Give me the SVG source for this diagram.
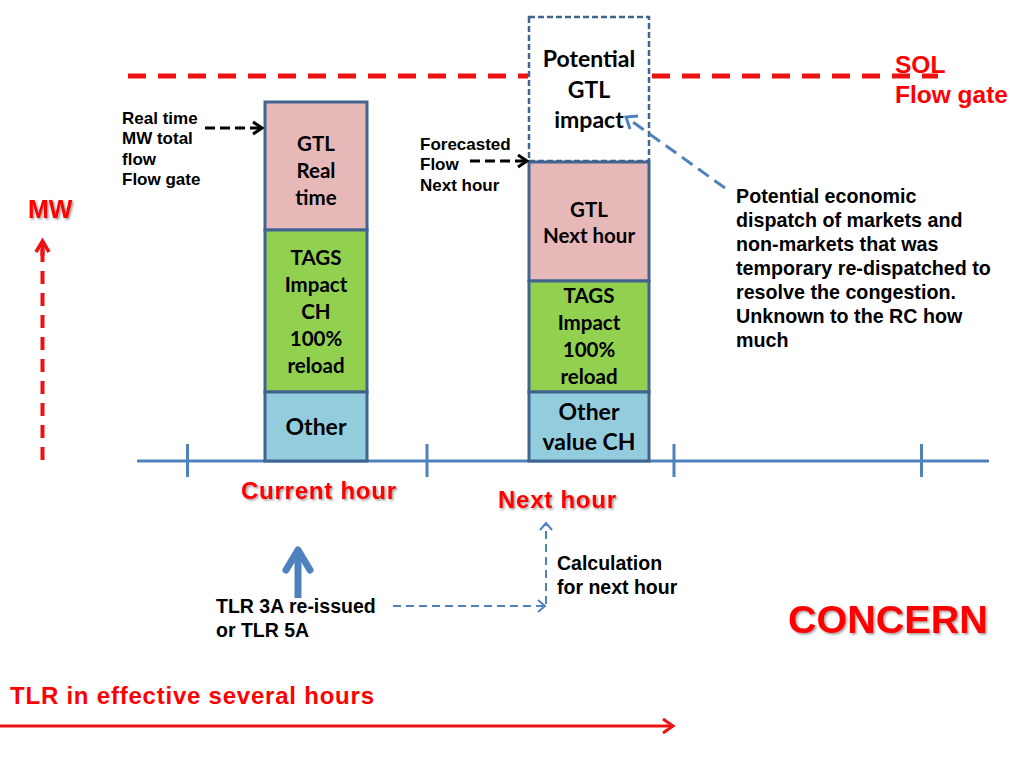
<svg xmlns="http://www.w3.org/2000/svg" width="1024" height="768" viewBox="0 0 1024 768">
<defs>
<style>
.col{font-family:Lato,"Open Sans","Liberation Sans",sans-serif;font-weight:bold;fill:#000;text-anchor:middle}
.lbl{font-family:"Liberation Sans",Arial,sans-serif;font-weight:bold;fill:#000}
.red{font-family:"Liberation Sans",Arial,sans-serif;font-weight:bold;fill:#ff0000}
.box{stroke:#41648f;stroke-width:3}
</style>
<filter id="sh" x="-10%" y="-20%" width="130%" height="160%">
<feDropShadow dx="1.5" dy="1.5" stdDeviation="1" flood-color="#000" flood-opacity="0.4"/>
</filter>
</defs>
<rect width="1024" height="768" fill="#fff"/>

<g id="sol-line">
<line x1="128" y1="76" x2="528" y2="76" stroke="#ee1111" stroke-width="5" stroke-dasharray="18 12"/>
<line x1="652" y1="76" x2="938" y2="76" stroke="#ee1111" stroke-width="5" stroke-dasharray="18 12"/>
<text class="red" x="895" y="73" font-size="24.5">SOL</text>
<text class="red" x="895" y="103" font-size="24.5">Flow gate</text>
</g>

<g id="axis">
<line x1="137" y1="461" x2="989" y2="461" stroke="#4f81bd" stroke-width="3"/>
<g stroke="#4f81bd" stroke-width="3">
<line x1="187.5" y1="444" x2="187.5" y2="477"/>
<line x1="427" y1="444" x2="427" y2="477"/>
<line x1="674" y1="444" x2="674" y2="477"/>
<line x1="921.5" y1="444" x2="921.5" y2="477"/>
</g>
</g>

<g id="current-column">
<rect class="box" x="265" y="102" width="102" height="128" fill="#e6b9b8"/>
<rect class="box" x="265" y="230" width="102" height="162" fill="#92d050"/>
<rect class="box" x="265" y="392" width="102" height="69" fill="#93cddd"/>
<text class="col" font-size="20.5"><tspan x="316" y="151">GTL</tspan><tspan x="316" y="178">Real</tspan><tspan x="316" y="205">time</tspan></text>
<text class="col" font-size="20.5"><tspan x="316" y="265">TAGS</tspan><tspan x="316" y="292">Impact</tspan><tspan x="316" y="319">CH</tspan><tspan x="316" y="346">100%</tspan><tspan x="316" y="373">reload</tspan></text>
<text class="col" x="316" y="435" font-size="23">Other</text>
</g>

<g id="next-column">
<rect x="529" y="17" width="120" height="144" fill="#fff" stroke="#41648f" stroke-width="2.5" stroke-dasharray="6 3"/>
<text class="col" font-size="23"><tspan x="589" y="67">Potential</tspan><tspan x="589" y="98">GTL</tspan><tspan x="589" y="128">impact</tspan></text>
<rect class="box" x="529" y="162" width="120" height="119" fill="#e6b9b8"/>
<rect class="box" x="529" y="281" width="120" height="111" fill="#92d050"/>
<rect class="box" x="529" y="392" width="120" height="69" fill="#93cddd"/>
<text class="col" font-size="20.5"><tspan x="589" y="217">GTL</tspan><tspan x="589" y="243">Next hour</tspan></text>
<text class="col" font-size="20.5"><tspan x="589" y="303">TAGS</tspan><tspan x="589" y="330">Impact</tspan><tspan x="589" y="357">100%</tspan><tspan x="589" y="384">reload</tspan></text>
<text class="col" font-size="23"><tspan x="589" y="420">Other</tspan><tspan x="589" y="450">value CH</tspan></text>
</g>

<g id="realtime-label">
<text class="lbl" font-size="17"><tspan x="122" y="124">Real time</tspan><tspan x="122" y="144">MW total</tspan><tspan x="122" y="165">flow</tspan><tspan x="122" y="185">Flow gate</tspan></text>
</g>

<g id="forecast-label">
<text class="lbl" font-size="17"><tspan x="420" y="150">Forecasted</tspan><tspan x="420" y="170">Flow</tspan><tspan x="420" y="191">Next hour</tspan></text>
</g>

<g id="potential-label">
<text class="lbl" font-size="19.7"><tspan x="736" y="203">Potential economic</tspan><tspan x="736" y="227">dispatch of markets and</tspan><tspan x="736" y="251">non-markets that was</tspan><tspan x="736" y="275">temporary re-dispatched to</tspan><tspan x="736" y="299">resolve the congestion.</tspan><tspan x="736" y="323">Unknown to the RC how</tspan><tspan x="736" y="347">much</tspan></text>
</g>

<g id="mw-axis">
<text class="red" x="28" y="218" font-size="25" filter="url(#sh)">MW</text>
</g>

<g id="time-labels">
<text class="red" x="241" y="499" font-size="24" textLength="155" filter="url(#sh)">Current hour</text>
<text class="red" x="498" y="508" font-size="24" textLength="118" filter="url(#sh)">Next hour</text>
<text class="red" x="788" y="633" font-size="39.5" filter="url(#sh)">CONCERN</text>
<text class="red" x="10" y="704" font-size="24" textLength="364">TLR in effective several hours</text>
</g>

<g id="tlr-label">
<text class="lbl" font-size="19.5"><tspan x="216" y="613">TLR 3A re-issued</tspan><tspan x="216" y="637">or TLR 5A</tspan></text>
</g>

<g id="calc-label">
<text class="lbl" font-size="19.5"><tspan x="557" y="570">Calculation</tspan><tspan x="557" y="594">for next hour</tspan></text>
</g>

<g id="connectors" fill="none">
<line x1="42.5" y1="460" x2="42.5" y2="248" stroke="#ee1111" stroke-width="4" stroke-dasharray="13 9"/>
<polyline points="36,252 42.5,241 49,252" stroke="#ee1111" stroke-width="3.5"/>
<line x1="42.5" y1="241" x2="42.5" y2="256" stroke="#ee1111" stroke-width="4"/>
<line x1="205" y1="128" x2="261" y2="128" stroke="#000" stroke-width="3" stroke-dasharray="10 5"/>
<polyline points="253,122 262,128 253,134" stroke="#000" stroke-width="3"/>
<line x1="470" y1="161" x2="526" y2="161" stroke="#000" stroke-width="3" stroke-dasharray="10 5"/>
<polyline points="518,155 527,161 518,167" stroke="#000" stroke-width="3"/>
<line x1="725" y1="188" x2="630" y2="120" stroke="#4f81bd" stroke-width="3" stroke-dasharray="13 7"/>
<polyline points="630,129 626,117 638,116" stroke="#4f81bd" stroke-width="3"/>
<line x1="298" y1="598" x2="298" y2="551" stroke="#4f81bd" stroke-width="7"/>
<polyline points="286,570 298,550 310,570" stroke="#4f81bd" stroke-width="7" stroke-linecap="round" stroke-linejoin="round"/>
<line x1="393" y1="606" x2="543" y2="606" stroke="#4f81bd" stroke-width="2" stroke-dasharray="8 5"/>
<polyline points="538,600 545,606 538,612" stroke="#4f81bd" stroke-width="2"/>
<line x1="546" y1="604" x2="546" y2="525" stroke="#4f81bd" stroke-width="2" stroke-dasharray="8 5"/>
<polyline points="540,530 546,523 552,530" stroke="#4f81bd" stroke-width="2"/>
<line x1="0" y1="726" x2="672" y2="726" stroke="#ee1111" stroke-width="3"/>
<polyline points="663,719 673,726 663,733" stroke="#ee1111" stroke-width="3"/>
</g>
</svg>
